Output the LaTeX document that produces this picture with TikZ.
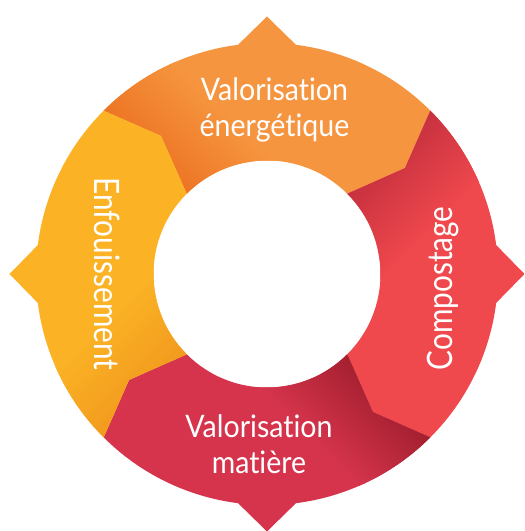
\documentclass[tikz,border=0pt]{standalone}
\usepackage{fontspec}
\setmainfont[FakeStretch=0.92, Ligatures=NoCommon]{Lato}
\newfontfamily\narrowfont[FakeStretch=0.85, Ligatures=NoCommon]{Lato}
\usepackage{xcolor}

\definecolor{orangeseg}{RGB}{246,149,63}
\definecolor{orangedark}{RGB}{237,117,36}
\definecolor{redseg}{RGB}{239,72,77}
\definecolor{reddark}{RGB}{199,49,63}
\definecolor{crimsonseg}{RGB}{213,52,76}
\definecolor{crimsondark}{RGB}{163,31,47}
\definecolor{yellowseg}{RGB}{251,179,37}
\definecolor{yellowdark}{RGB}{242,154,30}

\tikzset{
  lbl/.style={text=white, inner sep=0.75pt, align=center, font=\fontsize{31}{36}\selectfont},
  vlbl/.style={text=white, inner sep=0.75pt, font=\narrowfont\fontsize{35}{42}\selectfont}
}

\begin{document}
\begin{tikzpicture}[x=1pt,y=1pt]
\useasboundingbox (-267,-257) rectangle (258,274);

% top segment
\begin{scope}
\clip (135:231) arc[start angle=135, end angle=97.2, radius=231] -- (90:257.5) -- (82.8:231) arc[start angle=82.8, end angle=45, radius=231] -- (37.5:174) -- (45:113.5) arc[start angle=45, end angle=135, radius=113.5] -- (127.5:174) -- cycle;
\fill [orangeseg] (-270,-270) rectangle (270,280);
\begin{scope}[transform canvas={rotate=135}]
\shade [top color=orangedark, bottom color=orangeseg] (0,-85) rectangle (270,0);
\end{scope}
\end{scope}

% right segment
\begin{scope}
\clip (45:231) arc[start angle=45, end angle=7.2, radius=231] -- (0:257.5) -- (-7.2:231) arc[start angle=-7.2, end angle=-45, radius=231] -- (-52.5:174) -- (-45:113.5) arc[start angle=-45, end angle=45, radius=113.5] -- (37.5:174) -- cycle;
\fill [redseg] (-270,-270) rectangle (270,280);
\begin{scope}[transform canvas={rotate=45}]
\shade [top color=reddark, bottom color=redseg] (0,-85) rectangle (270,0);
\end{scope}
\end{scope}

% bottom segment
\begin{scope}
\clip (-45:231) arc[start angle=-45, end angle=-82.8, radius=231] -- (-90:257.5) -- (-97.2:231) arc[start angle=-97.2, end angle=-135, radius=231] -- (-142.5:174) -- (-135:113.5) arc[start angle=-135, end angle=-45, radius=113.5] -- (-52.5:174) -- cycle;
\fill [crimsonseg] (-270,-270) rectangle (270,280);
\begin{scope}[transform canvas={rotate=-45}]
\shade [top color=crimsondark, bottom color=crimsonseg] (0,-85) rectangle (270,0);
\end{scope}
\end{scope}

% left segment
\begin{scope}
\clip (225:231) arc[start angle=225, end angle=187.2, radius=231] -- (180:257.5) -- (172.8:231) arc[start angle=172.8, end angle=135, radius=231] -- (127.5:174) -- (135:113.5) arc[start angle=135, end angle=225, radius=113.5] -- (217.5:174) -- cycle;
\fill [yellowseg] (-270,-270) rectangle (270,280);
\begin{scope}[transform canvas={rotate=225}]
\shade [top color=yellowdark, bottom color=yellowseg] (0,-85) rectangle (270,0);
\end{scope}
\end{scope}

% labels (base anchor = last line)
\draw (7.5,138) node (valener) [lbl, anchor=base] {Valorisation\\énergétique};
\draw (186,-14.5) node (compost) [vlbl, rotate=90, anchor=base] {Compostage};
\draw (-8,-199) node (valmat) [lbl, anchor=base] {Valorisation\\matière};
\draw (-172,0) node (enfouis) [vlbl, rotate=-90, anchor=base] {Enfouissement};

\end{tikzpicture}
\end{document}
